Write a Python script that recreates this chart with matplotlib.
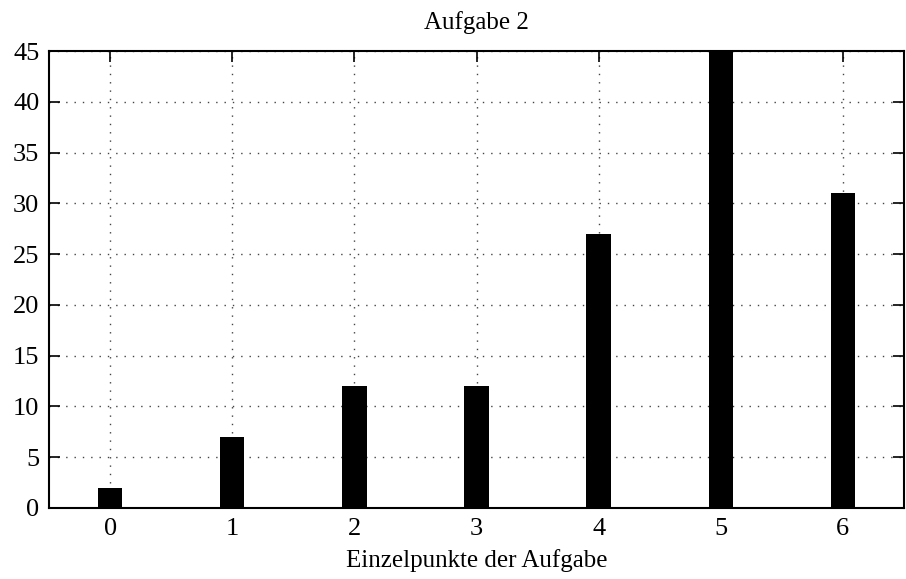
import matplotlib
matplotlib.use("Agg")
import matplotlib.pyplot as plt

categories = [0, 1, 2, 3, 4, 5, 6]
values = [2, 7, 12, 12, 27, 45, 31]
yticks = list(range(0, 50, 5))

plt.rcParams['font.family'] = ['Liberation Serif', 'DejaVu Serif']

fig = plt.figure(figsize=(9.06, 5.79), dpi=100)
ax = fig.add_axes([49/906, 71/579, (904-49)/906, (508-51)/579])

ax.bar(categories, values, width=0.2, color='black', zorder=3)
ax.set_xlim(-0.5, 6.5)
ax.set_ylim(0, 45)
ax.set_xticks(categories)
ax.set_yticks(yticks)
ax.grid(True, color='#444444', linestyle=(0, (1, 5)), linewidth=1.0, zorder=1)
ax.tick_params(direction='in', length=8, width=1.2, top=True, right=True,
               labelsize=19, pad=7, colors='black')
for s in ax.spines.values():
    s.set_linewidth(1.5)
    s.set_zorder(4)

ax.set_title('Aufgabe 2', fontsize=18, pad=16)
ax.set_xlabel('Einzelpunkte der Aufgabe', fontsize=18, labelpad=7)

fig.savefig('out.png', dpi=100)
